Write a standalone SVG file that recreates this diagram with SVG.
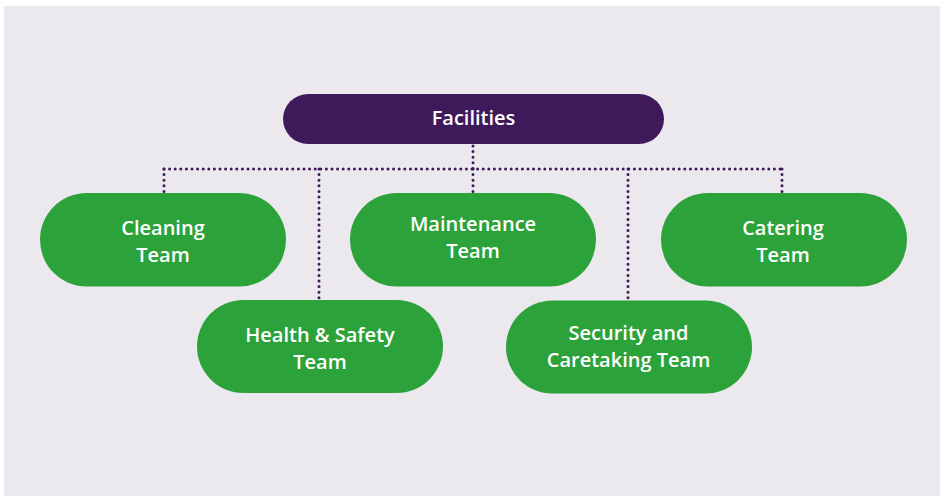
<svg xmlns="http://www.w3.org/2000/svg" width="945" height="496" viewBox="0 0 945 496">
<style>
.green{fill:#2ca23a}
.purple{fill:#3f1a5a}
.lbl{font-family:"Open Sans","Liberation Sans",sans-serif;font-weight:600;font-size:20px;fill:#ffffff;text-anchor:middle}
.dot{fill:none;stroke:#3f1a5a;stroke-width:3;stroke-linecap:round;stroke-dasharray:0 5.6}
</style>
<rect x="0" y="0" width="945" height="496" fill="#ffffff"/>
<rect x="4" y="6" width="936" height="490" fill="#ebe8ee"/>
<g id="connectors">
<path class="dot" d="M473 146 V169"/>
<path class="dot" d="M164 169 H783"/>
<path class="dot" d="M164 169 V192"/>
<path class="dot" d="M319 169 V299"/>
<path class="dot" d="M473 169 V192"/>
<path class="dot" d="M628 169 V299"/>
<path class="dot" d="M782 169 V192"/>
</g>
<g id="facilities">
<rect class="purple" x="283" y="94" width="381" height="50" rx="25"/>
<text class="lbl" x="473.5" y="124.5">Facilities</text>
</g>
<g id="cleaning">
<rect class="green" x="40" y="193" width="246" height="93.5" rx="46.75"/>
<text class="lbl" x="163" y="235">Cleaning</text>
<text class="lbl" x="163" y="261.5">Team</text>
</g>
<g id="maintenance">
<rect class="green" x="350" y="193" width="246" height="93.5" rx="46.75"/>
<text class="lbl" x="473" y="231">Maintenance</text>
<text class="lbl" x="473" y="257.5">Team</text>
</g>
<g id="catering">
<rect class="green" x="661" y="193" width="246" height="93.5" rx="46.75"/>
<text class="lbl" x="783" y="235">Catering</text>
<text class="lbl" x="783" y="261.5">Team</text>
</g>
<g id="health-safety">
<rect class="green" x="197" y="300" width="246" height="93" rx="46.5"/>
<text class="lbl" x="320" y="342">Health &amp; Safety</text>
<text class="lbl" x="320" y="368.5">Team</text>
</g>
<g id="security">
<rect class="green" x="506" y="300.5" width="246" height="93" rx="46.5"/>
<text class="lbl" x="628.5" y="340">Security and</text>
<text class="lbl" x="628.5" y="366.5">Caretaking Team</text>
</g>
</svg>
